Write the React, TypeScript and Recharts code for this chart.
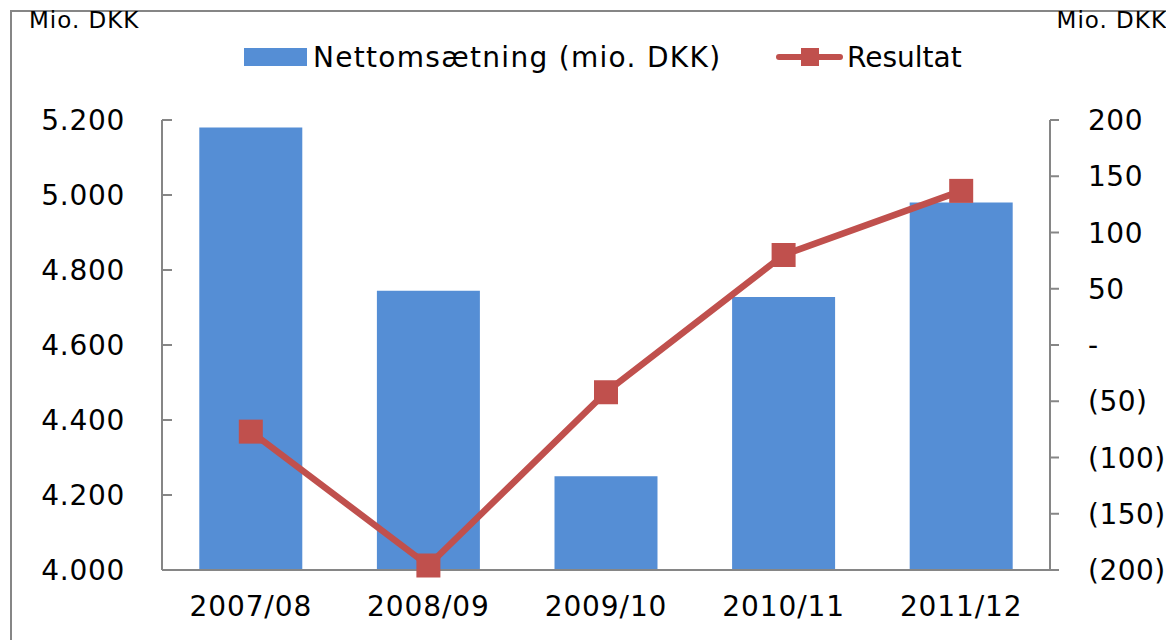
import React from "react";
import {
  ComposedChart,
  Bar,
  Line,
  XAxis,
  YAxis,
} from "recharts";

const categories = ["2007/08", "2008/09", "2009/10", "2010/11", "2011/12"];
const revenue = [5180, 4745, 4250, 4728, 4980];
const result = [-77, -196, -42, 80, 137];
const leftTicks = [4000, 4200, 4400, 4600, 4800, 5000, 5200];
const rightTicks = [-200, -150, -100, -50, 0, 50, 100, 150, 200];

const BLUE = "#558ED5";
const RED = "#C0504D";
const AXIS = "#868686";
const FONT = "'DejaVu Sans', Verdana, sans-serif";

const data = categories.map((c, i) => ({
  year: c,
  revenue: revenue[i],
  result: result[i],
}));

const fmtLeft = (v: number) =>
  String(v).replace(/\B(?=(\d{3})+(?!\d))/g, ".");
const fmtRight = (v: number) =>
  v === 0 ? "-" : v < 0 ? `(${Math.abs(v)})` : String(v);

const LeftTick = (props: any) => {
  const { x, y, payload } = props;
  return (
    <g>
      <line x1={x} x2={x + 10} y1={y} y2={y} stroke={AXIS} strokeWidth={2} />
      <text x={x - 37} y={y} dy="0.36em" textAnchor="end" fontSize={28} letterSpacing={0.7} fill="#000" fontFamily={FONT}>
        {fmtLeft(payload.value)}
      </text>
    </g>
  );
};

const RightTick = (props: any) => {
  const { x, y, payload } = props;
  return (
    <g>
      <line x1={x} x2={x + 9} y1={y} y2={y} stroke={AXIS} strokeWidth={2} />
      <text x={x + 38} y={y} dy="0.36em" textAnchor="start" fontSize={28} letterSpacing={0.5} fill="#000" fontFamily={FONT}>
        {fmtRight(payload.value)}
      </text>
    </g>
  );
};

const SquareDot = (props: any) => {
  const { cx, cy } = props;
  if (cx == null || cy == null) return null;
  return <rect x={cx - 12} y={cy - 12} width={24} height={24} fill={RED} />;
};

export default function App() {
  return (
    <div style={{ position: "relative", width: 1166, height: 632, fontFamily: FONT }}>
      <div
        style={{
          position: "absolute",
          left: 2,
          top: 2,
          right: 0,
          bottom: 0,
          borderTop: `2px solid ${AXIS}`,
          borderLeft: `2px solid ${AXIS}`,
        }}
      />
      <ComposedChart
        width={1166}
        height={632}
        data={data}
        margin={{ top: 112, right: 0, bottom: 0, left: 0 }}
        barCategoryGap="21%"
      >
        <XAxis
          dataKey="year"
          height={70}
          tickSize={0}
          tickMargin={26}
          axisLine={{ stroke: AXIS, strokeWidth: 2 }}
          tickLine={false}
          tick={{ fontSize: 28, fill: "#000", fontFamily: FONT, letterSpacing: 0.9 }}
          interval={0}
        />
        <YAxis
          yAxisId="left"
          orientation="left"
          width={154}
          domain={[4000, 5200]}
          ticks={leftTicks}
          tickSize={0}
          tickMargin={0}
          tickLine={false}
          axisLine={{ stroke: AXIS, strokeWidth: 2 }}
          tick={<LeftTick />}
          interval={0}
        />
        <YAxis
          yAxisId="right"
          orientation="right"
          width={124}
          domain={[-200, 200]}
          ticks={rightTicks}
          tickSize={0}
          tickMargin={0}
          tickLine={false}
          axisLine={{ stroke: AXIS, strokeWidth: 2 }}
          tick={<RightTick />}
          interval={0}
        />
        <Bar yAxisId="left" dataKey="revenue" fill={BLUE} isAnimationActive={false} />
        <Line
          yAxisId="right"
          dataKey="result"
          stroke={RED}
          strokeWidth={6.5}
          dot={<SquareDot />}
          activeDot={false}
          isAnimationActive={false}
        />
      </ComposedChart>
      <svg
        width={1166}
        height={110}
        style={{ position: "absolute", left: 0, top: 0, pointerEvents: "none" }}
        fontFamily={FONT}
      >
        <text x={21} y={20} fontSize={23} letterSpacing={1} fill="#000">Mio. DKK</text>
        <text x={1159} y={20} fontSize={23} letterSpacing={1} fill="#000" textAnchor="end">Mio. DKK</text>
        <rect x={236} y={40} width={63} height={18} fill={BLUE} />
        <text x={305} y={59} fontSize={28} letterSpacing={1.3} fill="#000">Nettomsætning (mio. DKK)</text>
        <line x1={771} x2={832} y1={49} y2={49} stroke={RED} strokeWidth={6} strokeLinecap="round" />
        <rect x={793} y={40} width={18} height={18} fill={RED} />
        <text x={839} y={59} fontSize={28} fill="#000">Resultat</text>
      </svg>
    </div>
  );
}
